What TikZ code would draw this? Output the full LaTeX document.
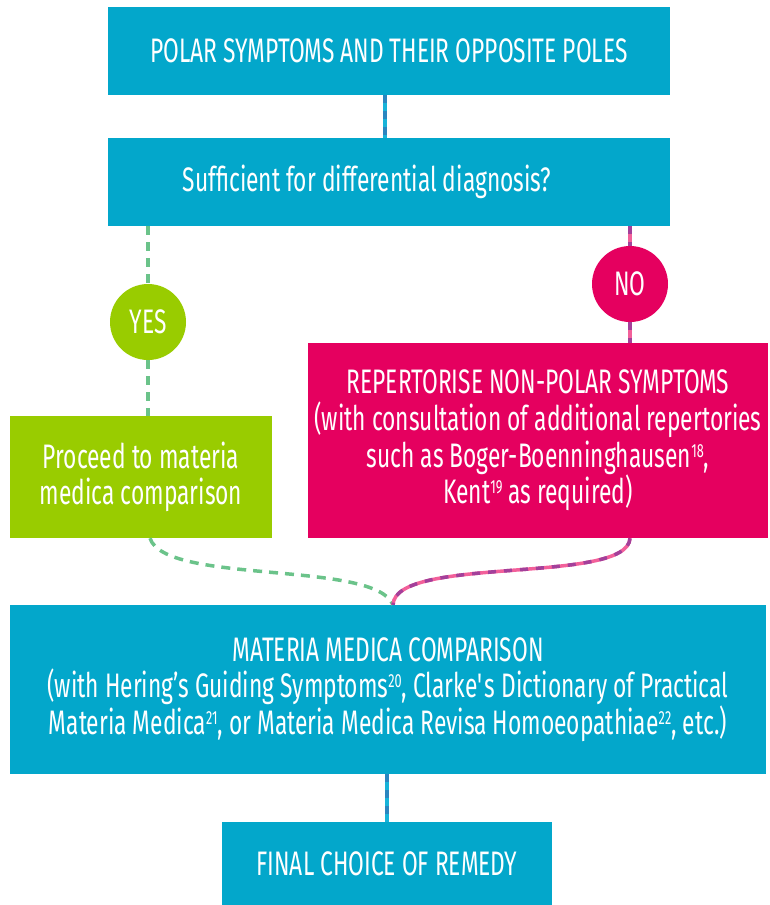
\documentclass[tikz,border=0pt]{standalone}
\usepackage{fontspec}
\setmainfont{Fira Sans}[FakeStretch=0.67]
\newcommand\fnref[1]{\raisebox{10pt}{\fontsize{19}{19}\selectfont #1}}
\definecolor{boxblue}{HTML}{03A7CB}
\definecolor{boxgreen}{HTML}{99CC00}
\definecolor{boxpink}{HTML}{E5005F}
\definecolor{dashgreen}{HTML}{6BC38A}
\definecolor{linkblueA}{HTML}{17B3D9}
\definecolor{linkblueB}{HTML}{2A86C0}
\definecolor{linkpinkA}{HTML}{F2609A}
\definecolor{linkpinkB}{HTML}{A3409A}
\tikzset{
  box/.style={rectangle, fill=#1, text=white, align=center, inner sep=0pt,
    font=\fontsize{34}{36.7}\selectfont},
  circ/.style={circle, fill=#1, text=white, inner sep=0pt, minimum size=76pt,
    font=\fontsize{34}{36}\selectfont},
  bluelink/.style={draw=linkblueA, line width=4pt,
    postaction={draw=linkblueB, line width=4pt, dash pattern=on 8pt off 8pt}},
  pinklink/.style={draw=linkpinkA, line width=3.5pt,
    postaction={draw=linkpinkB, line width=3.5pt, dash pattern=on 8pt off 8pt}},
  greenlink/.style={draw=dashgreen, line width=3.5pt, dash pattern=on 9pt off 7pt},
}
\begin{document}
\begin{tikzpicture}[x=1pt, y=-1pt]
\useasboundingbox (0,0) rectangle (769,905);
\node[box=boxblue, minimum width=562pt, minimum height=88pt] (top) at (389,51)
  {POLAR SYMPTOMS AND THEIR OPPOSITE POLES};
\node[box=boxblue, minimum width=562pt, minimum height=88pt] (q) at (389,182)
  {Sufficient for differential diagnosis?\hspace*{44pt}};
\node[circ=boxgreen] (yes) at (148,322) {YES};
\node[circ=boxpink] (no) at (630,284) {NO};
\node[box=boxgreen, minimum width=262pt, minimum height=122pt] (proc) at (141,477)
  {Proceed to materia\\medica comparison};
\node[box=boxpink, minimum width=460pt, minimum height=195pt] (rep) at (538,440.5)
  {REPERTORISE NON-POLAR SYMPTOMS\\(with consultation of additional repertories\\such as Boger-Boenninghausen\fnref{18},\\Kent\fnref{19} as required)};
\node[box=boxblue, minimum width=756pt, minimum height=169pt] (mm) at (388,689.5)
  {MATERIA MEDICA COMPARISON\\(with Hering’s Guiding Symptoms\fnref{20}, Clarke\textquotesingle s Dictionary of Practical\\Materia Medica\fnref{21}, or Materia Medica Revisa Homoeopathiae\fnref{22}, etc.)};
\node[box=boxblue, minimum width=330pt, minimum height=83pt] (fin) at (387,863.5)
  {FINAL CHOICE OF REMEDY};
% connectors
\draw[bluelink] ([xshift=-4pt]top.south) -- ([xshift=-4pt]q.north);
\draw[greenlink] (q.south -| yes.north) -- (yes.north);
\draw[greenlink] (yes.south) -- (proc.north -| yes.south);
\draw[pinklink] (q.south -| no.north) -- (no.north);
\draw[pinklink] (no.south) -- (rep.north -| no.south);
\draw[greenlink] ([xshift=9pt]proc.south) .. controls (165,585) and (375,560) .. ([xshift=5pt]mm.north);
\draw[pinklink] (rep.south -| no.south) .. controls (628,585) and (395,555) .. ([xshift=5pt]mm.north);
\draw[bluelink] (mm.south -| fin.north) -- (fin.north);
\end{tikzpicture}
\end{document}
